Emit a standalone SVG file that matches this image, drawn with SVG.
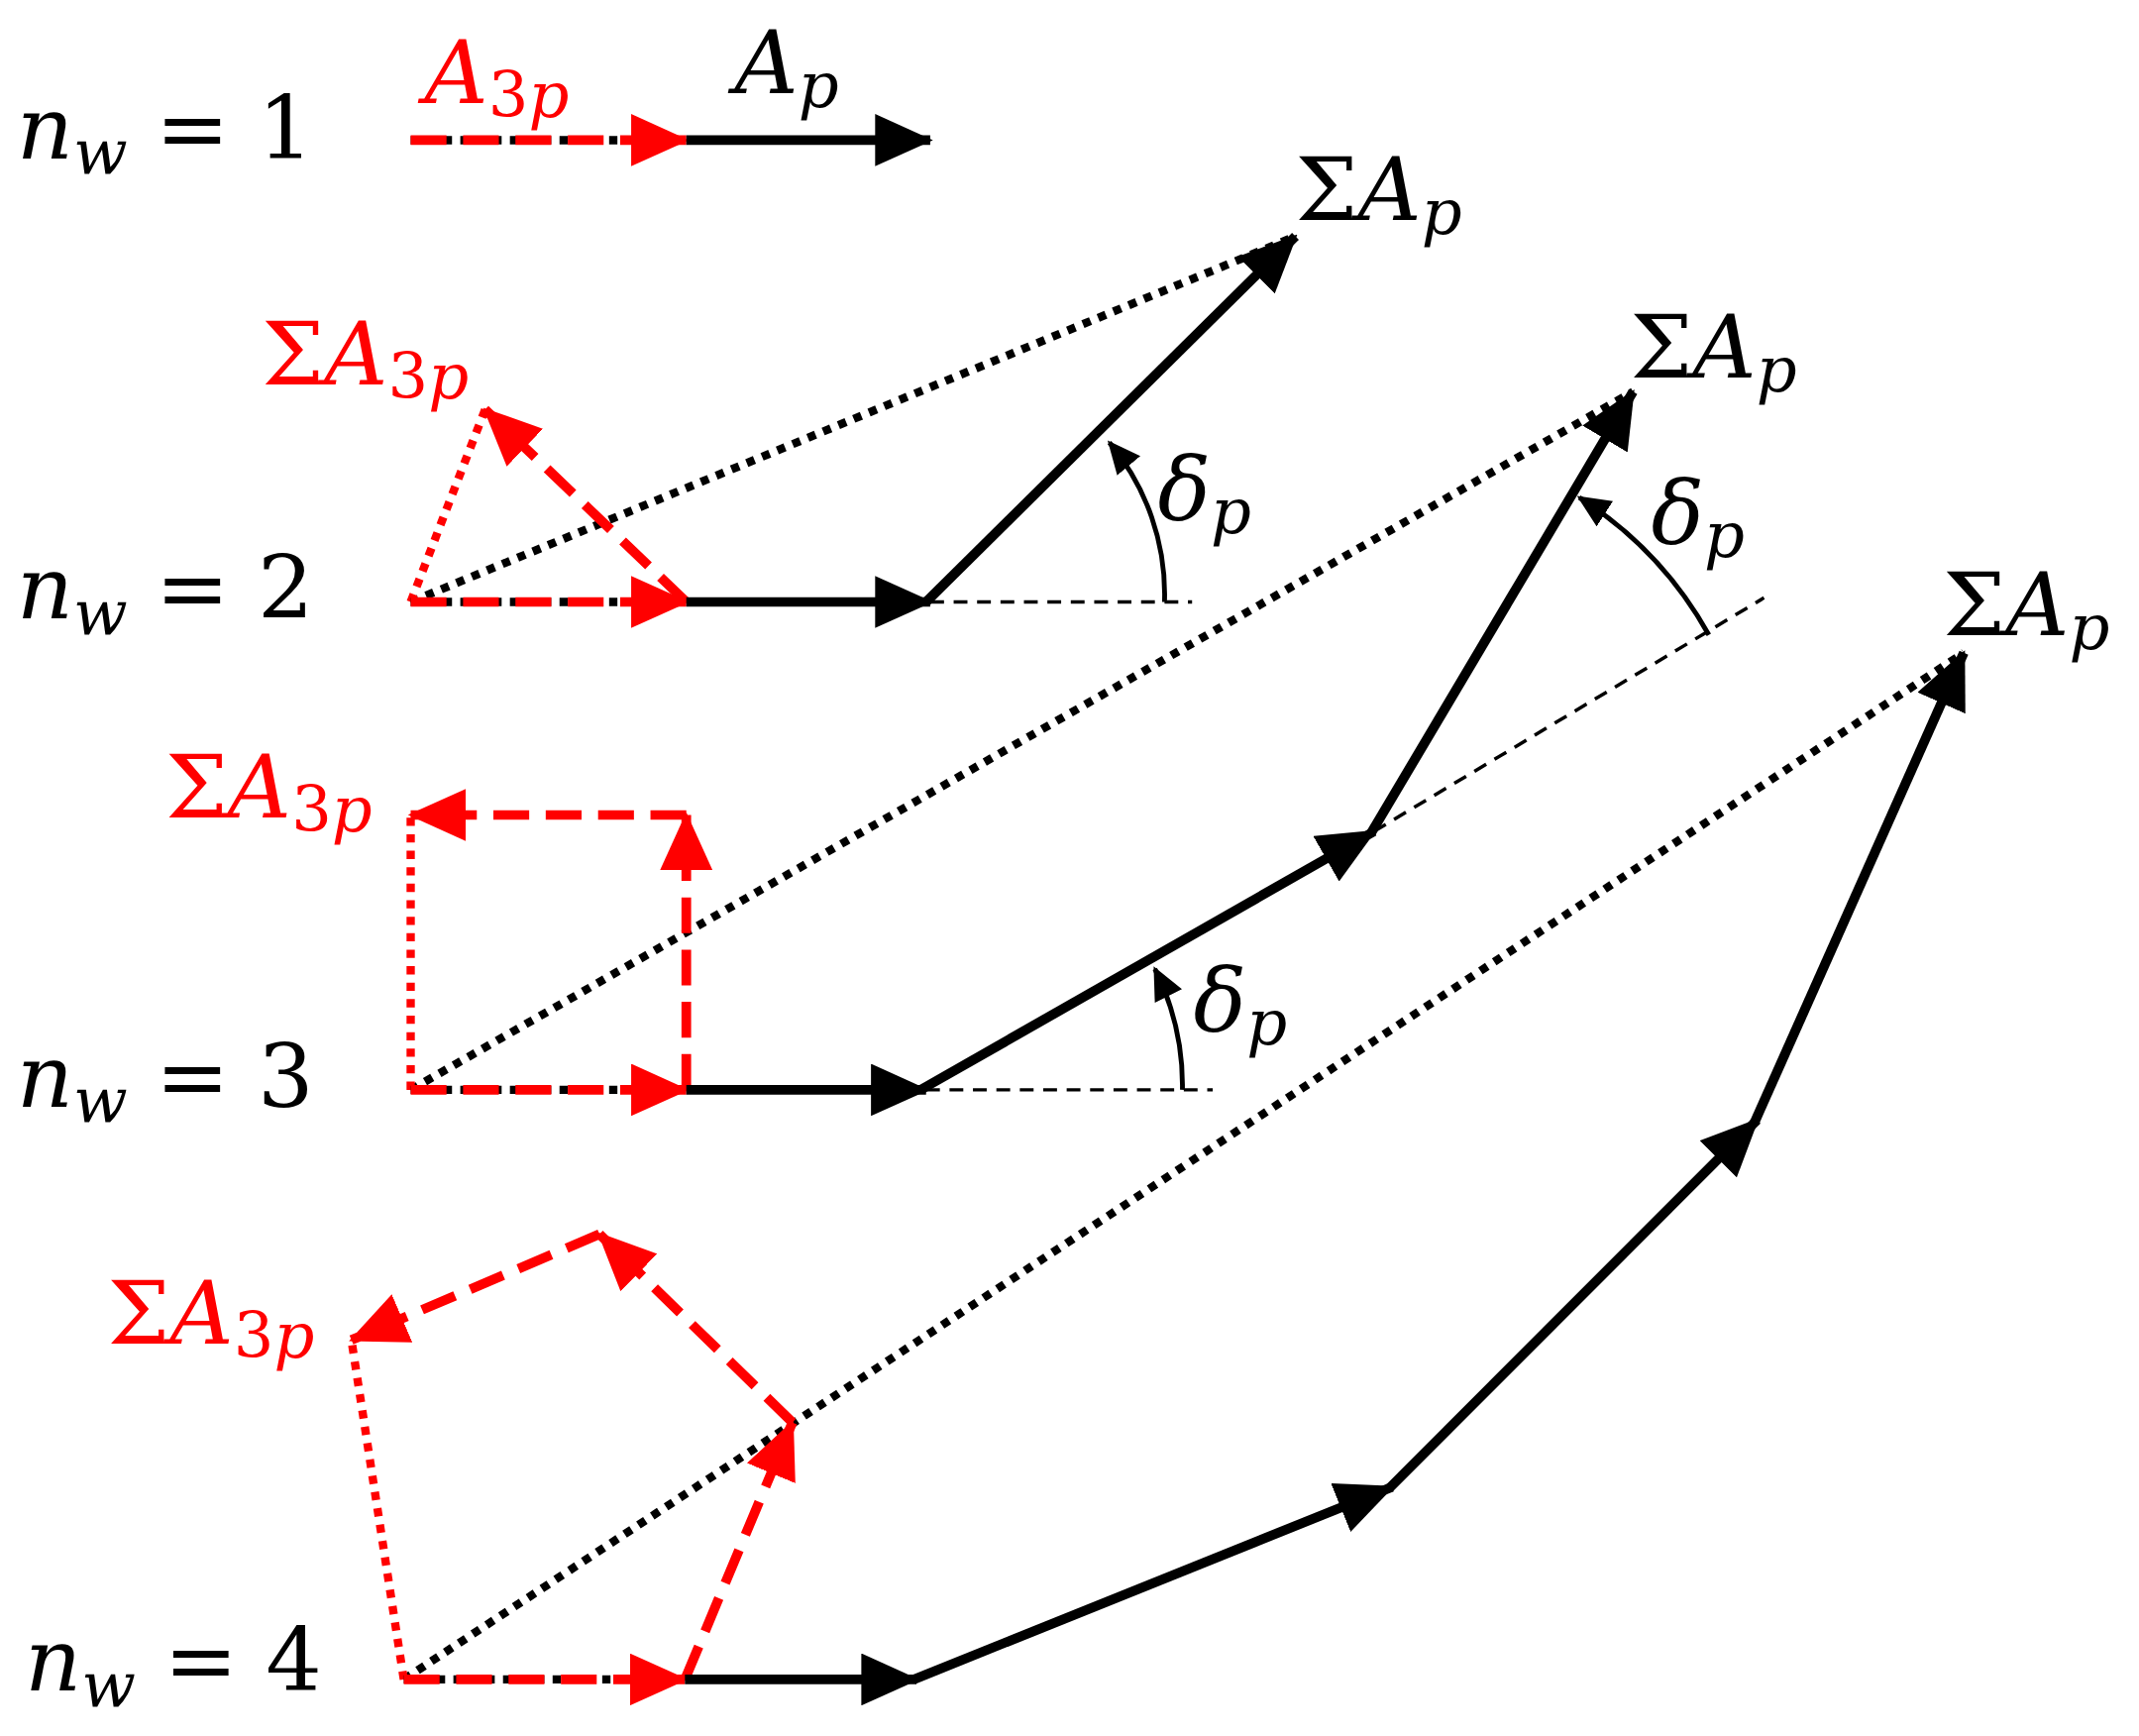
<svg xmlns="http://www.w3.org/2000/svg" width="2159" height="1752" viewBox="0 0 2159 1752">
<style>
.t{font-family:'DejaVu Serif','Liberation Serif',serif;font-size:64px}
.i{font-style:italic}
.s{font-size:46px}
.r{fill:#ff0000}
.k{fill:#000}
.sol{stroke:#000;stroke-width:7;fill:none}
.dot{stroke:#000;stroke-width:6;stroke-dasharray:6 6;fill:none}
.rdash{stroke:#ff0000;stroke-width:7;stroke-dasharray:26 12;fill:none}
.rdot{stroke:#ff0000;stroke-width:6;stroke-dasharray:6 6;fill:none}
.thin{stroke:#000;stroke-width:2.5;stroke-dasharray:10 7;fill:none}
.arc{stroke:#000;stroke-width:3.5;fill:none}
</style>
<defs>
<marker id="ak" markerUnits="userSpaceOnUse" markerWidth="42" markerHeight="38" viewBox="0 0 42 38" refX="40" refY="19" orient="auto"><path d="M0,0 L42,19 L0,38 Z" fill="#000"/></marker>
<marker id="ar" markerUnits="userSpaceOnUse" markerWidth="42" markerHeight="38" viewBox="0 0 42 38" refX="40" refY="19" orient="auto"><path d="M0,0 L42,19 L0,38 Z" fill="#ff0000"/></marker>
<marker id="as" markerUnits="userSpaceOnUse" markerWidth="24" markerHeight="22" viewBox="0 0 24 22" refX="22" refY="11" orient="auto"><path d="M0,0 L24,11 L0,22 Z" fill="#000"/></marker>
</defs>
<g transform="scale(1.391,1.387)">
<g id="connectors">
<line class="dot" x1="298" y1="102" x2="498" y2="102"/>
<line class="rdash" x1="298" y1="102" x2="498" y2="102" marker-end="url(#ar)"/>
<line class="sol" x1="498" y1="102" x2="675" y2="102" marker-end="url(#ak)"/>
<line class="dot" x1="298" y1="438" x2="940" y2="172"/>
<line class="rdot" x1="298" y1="438" x2="352" y2="298"/>
<line class="dot" x1="298" y1="438" x2="498" y2="438"/>
<line class="rdash" x1="298" y1="438" x2="498" y2="438" marker-end="url(#ar)"/>
<line class="rdash" x1="498" y1="438" x2="352" y2="298" marker-end="url(#ar)"/>
<line class="sol" x1="498" y1="438" x2="675" y2="438" marker-end="url(#ak)"/>
<line class="sol" x1="672" y1="438" x2="940" y2="172" marker-end="url(#ak)"/>
<line class="thin" x1="675" y1="438" x2="865" y2="438"/>
<path class="arc" d="M845,438 A172,172 0 0 0 805,322" marker-end="url(#as)"/>
<line class="dot" x1="298" y1="793" x2="1185" y2="285"/>
<line class="rdot" x1="298" y1="793" x2="298" y2="593"/>
<line class="dot" x1="298" y1="793" x2="498" y2="793"/>
<line class="rdash" x1="298" y1="793" x2="498" y2="793" marker-end="url(#ar)"/>
<line class="rdash" x1="498" y1="793" x2="498" y2="593" marker-end="url(#ar)"/>
<line class="rdash" x1="498" y1="593" x2="298" y2="593" marker-end="url(#ar)"/>
<line class="sol" x1="498" y1="793" x2="672" y2="793" marker-end="url(#ak)"/>
<line class="sol" x1="668" y1="793" x2="997" y2="605" marker-end="url(#ak)"/>
<line class="sol" x1="995" y1="606" x2="1185" y2="285" marker-end="url(#ak)"/>
<line class="thin" x1="672" y1="793" x2="880" y2="793"/>
<line class="thin" x1="997" y1="605" x2="1280" y2="435"/>
<path class="arc" d="M858,793 A190,190 0 0 0 838,705" marker-end="url(#as)"/>
<path class="arc" d="M1240,462 A280,280 0 0 0 1146,362" marker-end="url(#as)"/>
<line class="dot" x1="293" y1="1222" x2="1425" y2="475"/>
<line class="rdot" x1="293" y1="1222" x2="255" y2="975"/>
<line class="dot" x1="293" y1="1222" x2="497" y2="1222"/>
<line class="rdash" x1="293" y1="1222" x2="497" y2="1222" marker-end="url(#ar)"/>
<line class="rdash" x1="497" y1="1222" x2="575" y2="1035" marker-end="url(#ar)"/>
<line class="rdash" x1="575" y1="1035" x2="435" y2="898" marker-end="url(#ar)"/>
<line class="rdash" x1="435" y1="898" x2="255" y2="975" marker-end="url(#ar)"/>
<line class="sol" x1="497" y1="1222" x2="665" y2="1222" marker-end="url(#ak)"/>
<line class="sol" x1="663" y1="1222" x2="1010" y2="1082" marker-end="url(#ak)"/>
<line class="sol" x1="1008" y1="1083" x2="1275" y2="815" marker-end="url(#ak)"/>
<line class="sol" x1="1273" y1="817" x2="1425" y2="475" marker-end="url(#ak)"/>
</g>
<g id="labels">
<text class="t k" x="12" y="115"><tspan class="i">n</tspan><tspan class="i s" dy="12">w</tspan><tspan dy="-12"> = 1</tspan></text>
<text class="t k" x="12" y="450"><tspan class="i">n</tspan><tspan class="i s" dy="12">w</tspan><tspan dy="-12"> = 2</tspan></text>
<text class="t k" x="12" y="805"><tspan class="i">n</tspan><tspan class="i s" dy="12">w</tspan><tspan dy="-12"> = 3</tspan></text>
<text class="t k" x="18" y="1230"><tspan class="i">n</tspan><tspan class="i s" dy="12">w</tspan><tspan dy="-12"> = 4</tspan></text>
<text class="t r" x="308" y="75"><tspan class="i">A</tspan><tspan class="s" dy="10">3</tspan><tspan class="i s">p</tspan></text>
<text class="t k" x="533" y="68"><tspan class="i">A</tspan><tspan class="i s" dy="10">p</tspan></text>
<text class="t r" x="190" y="280">Σ<tspan class="i">A</tspan><tspan class="s" dy="10">3</tspan><tspan class="i s">p</tspan></text>
<text class="t r" x="120" y="595">Σ<tspan class="i">A</tspan><tspan class="s" dy="10">3</tspan><tspan class="i s">p</tspan></text>
<text class="t r" x="78" y="978">Σ<tspan class="i">A</tspan><tspan class="s" dy="10">3</tspan><tspan class="i s">p</tspan></text>
<text class="t k" x="940" y="160">Σ<tspan class="i">A</tspan><tspan class="i s" dy="10">p</tspan></text>
<text class="t k" x="1183" y="275">Σ<tspan class="i">A</tspan><tspan class="i s" dy="10">p</tspan></text>
<text class="t k" x="1410" y="462">Σ<tspan class="i">A</tspan><tspan class="i s" dy="10">p</tspan></text>
<text class="t k" x="840" y="378"><tspan class="i">δ</tspan><tspan class="i s" dy="10">p</tspan></text>
<text class="t k" x="866" y="750"><tspan class="i">δ</tspan><tspan class="i s" dy="10">p</tspan></text>
<text class="t k" x="1198" y="395"><tspan class="i">δ</tspan><tspan class="i s" dy="10">p</tspan></text>
</g>
</g>
</svg>
